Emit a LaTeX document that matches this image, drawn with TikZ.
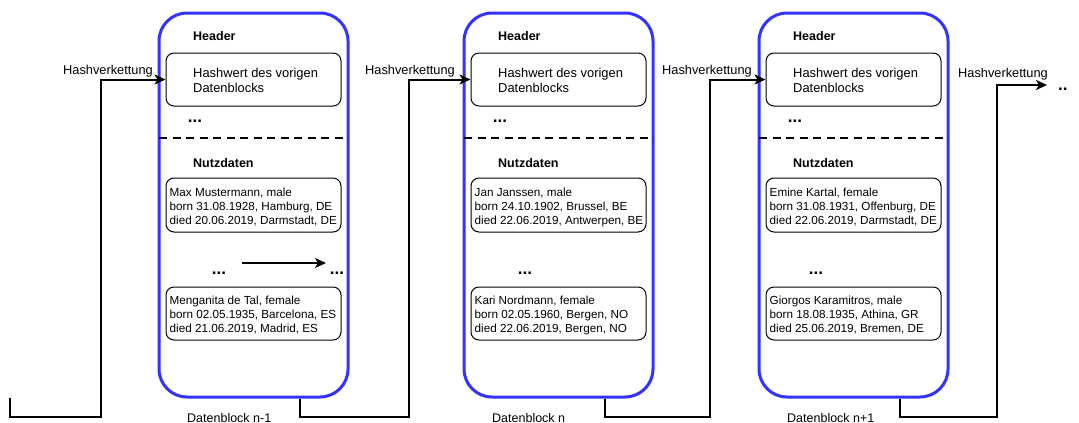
\documentclass[tikz,border=0pt]{standalone}
\usepackage{fontspec}
\setmainfont{Liberation Sans}
\usetikzlibrary{arrows.meta}
\definecolor{blockblue}{RGB}{51,51,255}
\begin{document}
\begin{tikzpicture}[x=1pt,y=-1pt,
  blockbox/.style={draw=blockblue,line width=3pt,rounded corners=28pt,minimum width=189pt,minimum height=384pt,inner sep=0pt},
  innerbox/.style={draw=black,line width=1pt,rounded corners=8pt,minimum width=175pt,inner sep=0pt},
  conn/.style={line width=2pt,-{Stealth[length=11pt,width=10pt,inset=3pt]}},
  dashline/.style={line width=2pt,dash pattern=on 8pt off 5.5pt},
  ttl/.style={font=\fontsize{12.5}{15}\selectfont\bfseries,anchor=base west,inner sep=0pt},
  hdtxt/.style={font=\fontsize{12.9}{15}\selectfont,align=left,anchor=north west,inner sep=0pt},
  datatxt/.style={font=\fontsize{11.7}{14}\selectfont,align=left,anchor=north west,inner sep=0pt},
  dots/.style={font=\fontsize{17}{17}\selectfont\bfseries,anchor=base,inner sep=0pt},
  lbl/.style={font=\fontsize{12.8}{14}\selectfont,anchor=base east,inner sep=0pt},
  blklbl/.style={font=\fontsize{12.5}{15}\selectfont,anchor=base west,inner sep=0pt}
]
\useasboundingbox (0,0) rectangle (1079,423);

% ---------- Block n-1 ----------
\begin{scope}[shift={(159,0)}]
  \node[blockbox] (b1) at (94.5,205) {};
  \node[ttl] (t1) at (34,40) {Header};
  \node[innerbox,minimum height=53pt] (h1) at (94.5,79.5) {};
  \node[hdtxt] (ht1) at (34,68) {Hashwert des vorigen\\Datenblocks};
  \node[dots] (hd1) at (36,122) {...};
  \draw[dashline] (0,138) coordinate (dl1) -- (189,138) coordinate (dr1);
  \node[ttl] (n1) at (34,167) {Nutzdaten};
  \node[innerbox,minimum height=54pt] (d1a) at (94.5,205) {};
  \node[datatxt] (d1at) at (10.5,187.5) {Max Mustermann, male\\born 31.08.1928, Hamburg, DE\\died 20.06.2019, Darmstadt, DE};
  \node[dots] (dd1) at (60,274) {...};
  \node[dots] (dd1b) at (178,274) {...};
  \coordinate (ma1) at (83,263);
  \coordinate (mb1) at (167,263);
  \node[innerbox,minimum height=53pt] (d1b) at (94.5,313.5) {};
  \node[datatxt] (d1bt) at (10.5,295.5) {Menganita de Tal, female\\born 02.05.1935, Barcelona, ES\\died 21.06.2019, Madrid, ES};
  \node[blklbl] (bl1) at (28,422) {Datenblock n-1};
\end{scope}
\draw[conn] (ma1) -- (mb1);

% ---------- Block n ----------
\begin{scope}[shift={(464,0)}]
  \node[blockbox] (b2) at (94.5,205) {};
  \node[ttl] (t2) at (34,40) {Header};
  \node[innerbox,minimum height=53pt] (h2) at (94.5,79.5) {};
  \node[hdtxt] (ht2) at (34,68) {Hashwert des vorigen\\Datenblocks};
  \node[dots] (hd2) at (36,122) {...};
  \draw[dashline] (0,138) coordinate (dl2) -- (189,138) coordinate (dr2);
  \node[ttl] (n2) at (34,167) {Nutzdaten};
  \node[innerbox,minimum height=54pt] (d2a) at (94.5,205) {};
  \node[datatxt] (d2at) at (10.5,187.5) {Jan Janssen, male\\born 24.10.1902, Brussel, BE\\died 22.06.2019, Antwerpen, BE};
  \node[dots] (dd2) at (61,274) {...};
  \node[innerbox,minimum height=53pt] (d2b) at (94.5,313.5) {};
  \node[datatxt] (d2bt) at (10.5,295.5) {Kari Nordmann, female\\born 02.05.1960, Bergen, NO\\died 22.06.2019, Bergen, NO};
  \node[blklbl] (bl2) at (28,422) {Datenblock n};
\end{scope}

% ---------- Block n+1 ----------
\begin{scope}[shift={(759,0)}]
  \node[blockbox] (b3) at (94.5,205) {};
  \node[ttl] (t3) at (34,40) {Header};
  \node[innerbox,minimum height=53pt] (h3) at (94.5,79.5) {};
  \node[hdtxt] (ht3) at (34,68) {Hashwert des vorigen\\Datenblocks};
  \node[dots] (hd3) at (36,122) {...};
  \draw[dashline] (0,138) coordinate (dl3) -- (189,138) coordinate (dr3);
  \node[ttl] (n3) at (34,167) {Nutzdaten};
  \node[innerbox,minimum height=54pt] (d3a) at (94.5,205) {};
  \node[datatxt] (d3at) at (10.5,187.5) {Emine Kartal, female\\born 31.08.1931, Offenburg, DE\\died 22.06.2019, Darmstadt, DE};
  \node[dots] (dd3) at (57,274) {...};
  \node[innerbox,minimum height=53pt] (d3b) at (94.5,313.5) {};
  \node[datatxt] (d3bt) at (10.5,295.5) {Giorgos Karamitros, male\\born 18.08.1935, Athina, GR\\died 25.06.2019, Bremen, DE};
  \node[blklbl] (bl3) at (28,422) {Datenblock n+1};
\end{scope}

% ---------- Hash chain connectors ----------
\coordinate (s0) at (10,398);
\coordinate (k0) at (101,417);
\draw[conn] (s0) |- (k0) |- (h1.west);
\node[lbl] (hv1) at (153,74) {Hashverkettung};

\coordinate (o1) at ([xshift=46.5pt]b1.south);
\coordinate (k1) at (409,417);
\draw[conn] (o1) |- (k1) |- (h2.west);
\node[lbl] (hv2) at (455,74) {Hashverkettung};

\coordinate (o2) at ([xshift=46.5pt]b2.south);
\coordinate (k2) at (710,417);
\draw[conn] (o2) |- (k2) |- (h3.west);
\node[lbl] (hv3) at (752,74) {Hashverkettung};

\coordinate (o3) at ([xshift=46.5pt]b3.south);
\coordinate (k3) at (997,417);
\coordinate (e3) at (1047,85);
\draw[conn] (o3) |- (k3) |- (e3);
\node[lbl] (hv4) at (1048,77) {Hashverkettung};
\node[font=\fontsize{17}{17}\selectfont\bfseries,anchor=base west,inner sep=0pt] (end) at (1058,90) {..};
\end{tikzpicture}
\end{document}
